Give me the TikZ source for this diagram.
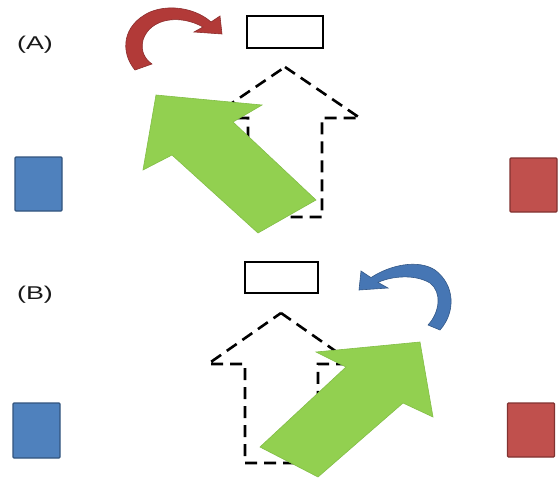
\documentclass[tikz,border=0pt]{standalone}
\usepackage{fontspec}
\setmainfont{Liberation Sans}
\begin{document}
\begin{tikzpicture}[x=1pt,y=-1pt,
  panel/.style={font=\fontsize{18.5}{20}\selectfont, xscale=1.45, inner sep=0pt, text=black!90},
  bluebox/.style={draw={rgb,255:red,50;green,84;blue,126}, fill={rgb,255:red,79;green,129;blue,189}, line width=1.3pt, rounded corners=1pt, inner sep=0pt},
  redbox/.style={draw={rgb,255:red,130;green,50;blue,48}, fill={rgb,255:red,192;green,80;blue,77}, line width=1.3pt, rounded corners=1pt, inner sep=0pt},
  target/.style={draw=black, fill=white, line width=2pt, inner sep=0pt},
  ghost/.style={draw=black, line width=2.6pt, dash pattern=on 12pt off 7pt, line join=miter},
  bigarrow/.style={fill={rgb,255:red,146;green,208;blue,80}, draw={rgb,255:red,130;green,190;blue,70}, line width=0.6pt, line join=miter},
  redturn/.style={fill={rgb,255:red,178;green,58;blue,56}, draw={rgb,255:red,140;green,45;blue,45}, line width=0.6pt},
  blueturn/.style={fill={rgb,255:red,70;green,118;blue,180}, draw={rgb,255:red,52;green,88;blue,135}, line width=0.6pt}
]
\useasboundingbox (0,0) rectangle (558,479);
\fill[white] (0,0) rectangle (558,479);

% panel labels
\node[panel] (labA) at (35,45) {(A)};
\node[panel] (labB) at (35,295) {(B)};

% side boxes
\node[bluebox, minimum width=47pt, minimum height=54pt] (blueA) at (38.5,184) {};
\node[redbox,  minimum width=47pt, minimum height=54pt] (redA)  at (533.5,185) {};
\node[bluebox, minimum width=47pt, minimum height=55pt] (blueB) at (36.5,430.5) {};
\node[redbox,  minimum width=47pt, minimum height=54pt] (redB)  at (531,430) {};

% target boxes
\node[target, minimum width=76pt, minimum height=32pt] (topA) at (285,32) {};
\node[target, minimum width=73pt, minimum height=31pt] (topB) at (281.5,277.5) {};

% (A) dashed upward arrow
\draw[ghost] (285,67) -- (360,118) -- (322,118) -- (322,217) -- (248,217) -- (248,118) -- (210,118) -- cycle;
% (A) green arrow pointing up-left
\filldraw[bigarrow] (156,95) -- (262,105) -- (233,122) -- (316,200) -- (258,233) -- (172,155) -- (143,170) -- cycle;
% (A) red turning arrow
\filldraw[redturn] (135,70) .. controls (120,52) and (122,25) .. (150,12)
  .. controls (172,3) and (198,10) .. (211,22) -- (220,16) -- (222,34) -- (194,32) -- (203,27)
  .. controls (180,14) and (150,18) .. (143,40)
  .. controls (140,52) and (146,60) .. (152,64) -- cycle;

% (B) dashed upward arrow
\draw[ghost] (281,313) -- (354,364) -- (318,364) -- (318,463) -- (245,463) -- (245,364) -- (208,364) -- cycle;
% (B) green arrow pointing up-right
\filldraw[bigarrow] (420,342) -- (433,417) -- (403,403) -- (318,477) -- (260,447) -- (346,367) -- (316,352) -- cycle;
% (B) blue turning arrow
\filldraw[blueturn] (440,330) .. controls (456,312) and (455,285) .. (435,270)
  .. controls (418,259) and (390,265) .. (371,277.6) -- (361,271) -- (359,290) -- (388,288) -- (378,282.4)
  .. controls (392,276) and (415,274) .. (430,283)
  .. controls (442,292) and (440,312) .. (428,325) -- cycle;
\end{tikzpicture}
\end{document}
